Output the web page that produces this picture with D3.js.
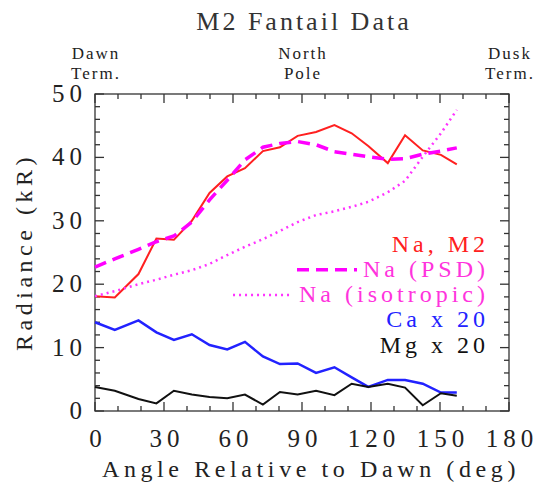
<!DOCTYPE html>
<html>
<head>
<meta charset="utf-8">
<script src="https://cdn.jsdelivr.net/npm/d3@7"></script>
<style>
  body { margin: 0; background: #fff; }
  text { font-family: "Liberation Serif", serif; }
</style>
</head>
<body>
<div id="grafica"></div>
<script>
// Datos
const angulo = [0, 8.6, 18.9, 26.7, 34.3, 42.1, 49.8, 57.5, 65.2, 73, 80.4, 88.1, 96.1, 104.1, 111.6, 118.8, 127.3, 134.8, 142.5, 150.4, 157.3]
const naM2 = [18.1, 17.9, 21.6, 27.2, 27.0, 30.0, 34.4, 37.0, 38.3, 41.0, 41.6, 43.4, 44.0, 45.1, 43.8, 41.8, 39.1, 43.5, 41.1, 40.4, 38.9]
const naPSD = [22.7, 24.0, 25.5, 26.7, 27.6, 29.8, 33.3, 36.4, 39.6, 41.6, 42.2, 42.5, 42.0, 40.9, 40.5, 40.1, 39.7, 39.8, 40.5, 41.0, 41.5]
const naIso = [18.1, 18.9, 20.0, 20.7, 21.5, 22.2, 23.2, 24.6, 25.9, 27.1, 28.4, 29.8, 30.9, 31.5, 32.2, 33.0, 34.5, 36.3, 40.1, 43.8, 47.5]
const caX20 = [14.0, 12.8, 14.3, 12.4, 11.2, 12.1, 10.4, 9.7, 10.9, 8.6, 7.4, 7.5, 6.0, 6.9, 5.3, 3.8, 4.9, 4.9, 4.3, 2.9, 2.9]
const mgX20 = [3.8, 3.2, 1.9, 1.2, 3.2, 2.6, 2.2, 2.0, 2.6, 1.0, 3.0, 2.6, 3.2, 2.5, 4.3, 3.8, 4.3, 3.7, 0.9, 2.8, 2.4]

const xTicks = [0, 30, 60, 90, 120, 150, 180]
const yTicks = [0, 10, 20, 30, 40, 50]
const topLabels = [[0, "Dawn", "Term."], [90, "North", "Pole"], [180, "Dusk", "Term."]]

const series = [
  { nombre: "Na, M2", valores: naM2, color: "#ff2020", ancho: 2, dash: null, texto: "#ff2020" },
  { nombre: "Na (PSD)", valores: naPSD, color: "#ff00ff", ancho: 3.5, dash: "12,7", texto: "#ff33dd" },
  { nombre: "Na (isotropic)", valores: naIso, color: "#ff33ff", ancho: 2.5, dash: "2,4", texto: "#ff33dd" },
  { nombre: "Ca x 20", valores: caX20, color: "#2222ff", ancho: 2.5, dash: null, texto: "#2222ff" },
  { nombre: "Mg x 20", valores: mgX20, color: "#111111", ancho: 2, dash: null, texto: "#111111" }
]

const anchoTotal = 539
const altoTotal = 482
const margins = { top: 94, right: 30, bottom: 71, left: 95 }
const ancho = anchoTotal - margins.left - margins.right
const alto = altoTotal - margins.top - margins.bottom

const x = d3.scaleLinear().domain([0, 180]).range([0, ancho])
const y = d3.scaleLinear().domain([0, 50]).range([alto, 0])

const svg = d3.select("#grafica").append("svg")
    .attr("width", anchoTotal)
    .attr("height", altoTotal)

const g = svg.append("g")
    .attr("transform", `translate(${margins.left},${margins.top})`)

// Titulo
svg.append("text")
    .attr("x", 304).attr("y", 30)
    .attr("text-anchor", "middle")
    .attr("font-size", "26px")
    .attr("letter-spacing", "3px")
    .attr("fill", "#333")
    .text("M2 Fantail Data")

// Etiquetas superiores (dos lineas)
topLabels.forEach(([a, l1, l2]) => {
  [l1, l2].forEach((linea, k) => {
    g.append("text")
        .attr("x", x(a) + 1).attr("y", k === 0 ? -35 : -15)
        .attr("text-anchor", "middle")
        .attr("font-size", "17px")
        .attr("letter-spacing", "2px")
        .attr("fill", "#222")
        .text(linea)
  })
})

// Ejes con ticks hacia dentro
const ejeColor = "#333"
const mayor = 9, menor = 5
const xMenores = d3.range(0, 181, 10)
const yMenores = d3.range(0, 51, 2)

const ejes = g.append("g").attr("stroke", ejeColor).attr("stroke-width", 1.3)
ejes.append("rect").attr("width", ancho).attr("height", alto).attr("fill", "none")

xMenores.forEach(v => {
  const len = xTicks.includes(v) ? mayor : menor
  ejes.append("line").attr("x1", x(v)).attr("x2", x(v)).attr("y1", alto).attr("y2", alto - len)
  ejes.append("line").attr("x1", x(v)).attr("x2", x(v)).attr("y1", 0).attr("y2", len)
})
yMenores.forEach(v => {
  const len = yTicks.includes(v) ? mayor : menor
  ejes.append("line").attr("x1", 0).attr("x2", len).attr("y1", y(v)).attr("y2", y(v))
  ejes.append("line").attr("x1", ancho).attr("x2", ancho - len).attr("y1", y(v)).attr("y2", y(v))
})

g.selectAll(".xlab").data(xTicks).join("text")
    .attr("x", d => x(d) + 3).attr("y", alto + 36)
    .attr("text-anchor", "middle")
    .attr("font-size", "25px")
    .attr("letter-spacing", "5px")
    .attr("fill", "#222")
    .text(d => d)

g.selectAll(".ylab").data(yTicks).join("text")
    .attr("x", -8).attr("y", d => y(d) + 8)
    .attr("text-anchor", "end")
    .attr("font-size", "25px")
    .attr("letter-spacing", "5px")
    .attr("fill", "#222")
    .text(d => d)

g.append("text")
    .attr("x", 216).attr("y", alto + 66)
    .attr("text-anchor", "middle")
    .attr("font-size", "24px")
    .attr("letter-spacing", "4.6px")
    .attr("fill", "#222")
    .text("Angle Relative to Dawn (deg)")

g.append("text")
    .attr("transform", "rotate(-90)")
    .attr("x", -158).attr("y", -63)
    .attr("text-anchor", "middle")
    .attr("font-size", "24px")
    .attr("letter-spacing", "4.5px")
    .attr("fill", "#222")
    .text("Radiance (kR)")

// Lineas
series.forEach(s => {
  const linea = d3.line()
      .x((d, i) => x(angulo[i]))
      .y(d => y(d))
  g.append("path")
      .datum(s.valores)
      .attr("fill", "none")
      .attr("stroke", s.color)
      .attr("stroke-width", s.ancho)
      .attr("stroke-dasharray", s.dash)
      .attr("d", linea)
})

// Leyenda
const leyendaX = 394
series.forEach((s, i) => {
  const yy = 157.5 + i * 25.3
  const t = g.append("text")
      .attr("x", leyendaX).attr("y", yy)
      .attr("text-anchor", "end")
      .attr("font-size", "24px")
      .attr("letter-spacing", "4px")
      .attr("fill", s.texto)
      .text(s.nombre)
  if (s.dash) {
    const inicio = t.node().getBBox().x
    g.append("line")
        .attr("x1", inicio - 66).attr("x2", inicio - 6)
        .attr("y1", yy - 7).attr("y2", yy - 7)
        .attr("stroke", s.color)
        .attr("stroke-width", s.ancho)
        .attr("stroke-dasharray", s.dash)
  }
})
</script>
</body>
</html>
